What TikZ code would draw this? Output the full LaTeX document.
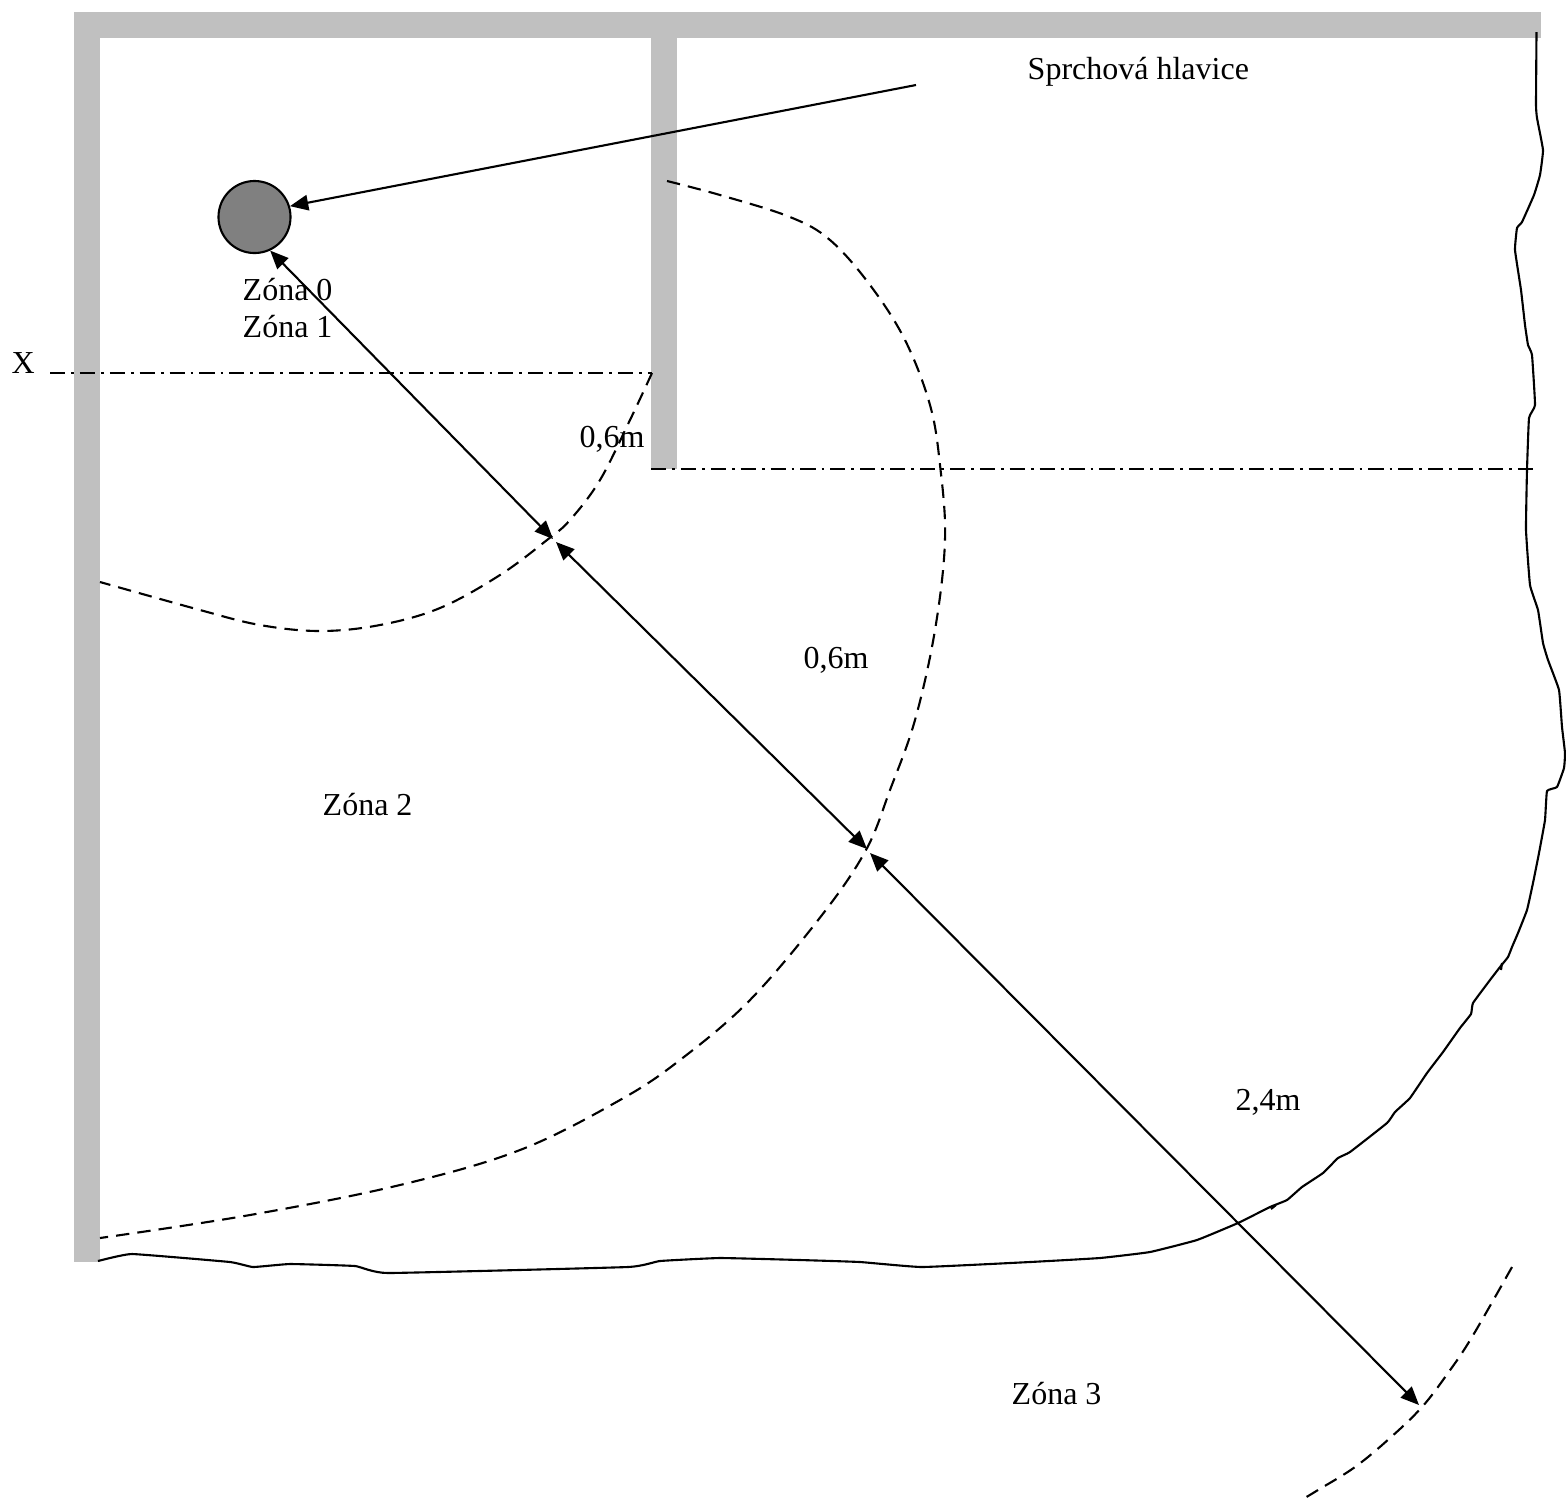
\documentclass[tikz,border=0pt]{standalone}
\usepackage{fontspec}
\setmainfont{Liberation Serif}
\usetikzlibrary{arrows.meta}
\definecolor{wallgray}{HTML}{C0C0C0}
\definecolor{headgray}{HTML}{808080}
\tikzset{
  wall/.style={fill=wallgray, draw=none},
  zonelabel/.style={anchor=base west, inner sep=0pt, font=\fontsize{9.1}{11}\selectfont},
  zoneedge/.style={line width=0.6pt, dash pattern=on 3.8pt off 2.3pt},
  axisline/.style={line width=0.6pt, dash pattern=on 4.3pt off 1.7pt on 0.8pt off 1.7pt},
  roomedge/.style={line width=0.6pt},
  dimline/.style={line width=0.6pt, {Triangle[length=5.2pt,width=4.4pt]}-{Triangle[length=5.2pt,width=4.4pt]}},
  callout/.style={line width=0.6pt, -{Triangle[length=5.2pt,width=4.4pt]}}
}
\begin{document}
\begin{tikzpicture}[x=0.01cm, y=-0.01cm]
  \useasboundingbox (0,0) rectangle (1566,1499);
  % walls
  \fill[wall] (74,12) rectangle (1541,38);
  \fill[wall] (74,38) rectangle (100,1262);
  \fill[wall] (651,38) rectangle (677,469);

  % shower head
  \node[circle, draw, fill=headgray, line width=0.6pt, minimum size=0.72cm, inner sep=0pt] (head) at (254.5,217) {};
  \coordinate (calloutstart) at (916,85);
  \coordinate (zoneA) at (553,539);
  \coordinate (zoneBstart) at (556,542);
  \coordinate (zoneB) at (867,849);
  \coordinate (zoneCstart) at (870,853);
  \coordinate (zoneC) at (1419,1405);
  \coordinate (axisAstart) at (50,373);
  \coordinate (axisAend) at (652,373);
  \coordinate (axisBstart) at (651,469);
  \coordinate (axisBend) at (1537,469);

  % edge of the room
  \draw[roomedge, line join=round] plot[smooth, tension=0.2] coordinates {(1536.5,32) (1536,105) (1537,118) (1543,150) (1540,175) (1534,195) (1522,222) (1517,228) (1515,250) (1521,290) (1525,325) (1528,345) (1532,355) (1535,405) (1529,418) (1527,470) (1526,530) (1530,585) (1538,610) (1543,643) (1548,660) (1559,690) (1562,727) (1565,753) (1564,768) (1557,787) (1547,791) (1545,820) (1539,853) (1533,883) (1527,910) (1518,933) (1512,947) (1508,957) (1500,967) (1490,980) (1473,1003) (1471,1014) (1460,1028) (1443,1052) (1427,1073) (1410,1098) (1395,1112) (1387,1123) (1350,1152) (1338,1158) (1323,1173) (1302,1187) (1287,1200) (1270,1207) (1238,1223) (1197,1240) (1150,1252) (1100,1258) (1030,1262) (922,1267) (860,1262) (800,1260) (720,1258) (660,1261) (628,1267) (388,1273) (355,1266) (290,1264) (253,1267) (230,1262) (132,1254) (98,1261)};
  \draw[roomedge] (1501,970) -- (1502,963);
  \draw[roomedge] (1271,1209) -- (1276,1205);

  % zone borders
  \draw[zoneedge] plot[smooth, tension=0.6] coordinates {(652,373) (630,420) (600,480) (570,520) (547,540) (500,575) (440,608) (380,625) (320,631) (260,625) (200,610) (100,582)};
  \draw[zoneedge] plot[smooth, tension=0.6] coordinates {(667,181) (720,195) (790,217) (830,240) (870,285) (905,340) (930,405) (940,465) (945,540) (935,630) (915,720) (890,790) (866,850) (822,915) (750,1000) (680,1060) (620,1100) (520,1150) (400,1185) (250,1215) (100,1238)};
  \draw[zoneedge] plot[smooth, tension=0.6] coordinates {(1512,1267) (1472,1337) (1448,1373) (1422,1407) (1390,1438) (1355,1467) (1318,1490) (1303,1499)};

  % axis lines
  \draw[axisline] (axisAstart) -- (axisAend);
  \draw[axisline] (axisBstart) -- (axisBend);

  % arrows
  \draw[callout] (calloutstart) -- (head.17);
  \draw[dimline] (head.-65) -- (zoneA);
  \draw[dimline] (zoneBstart) -- (zoneB);
  \draw[dimline] (zoneCstart) -- (zoneC);

  % labels
  \node[zonelabel] (shower) at (1027,79) {Sprchová hlavice};
  \node[zonelabel] (zone0) at (242,300) {Zóna 0};
  \node[zonelabel] (zone1) at (242,337) {Zóna 1};
  \node[zonelabel] (xmark) at (11,373) {X};
  \node[zonelabel] (dimA) at (579,447) {0,6m};
  \node[zonelabel] (dimB) at (803,668) {0,6m};
  \node[zonelabel] (zone2) at (322,815) {Zóna 2};
  \node[zonelabel] (dimC) at (1235,1110) {2,4m};
  \node[zonelabel] (zone3) at (1011,1404) {Zóna 3};
\end{tikzpicture}
\end{document}
